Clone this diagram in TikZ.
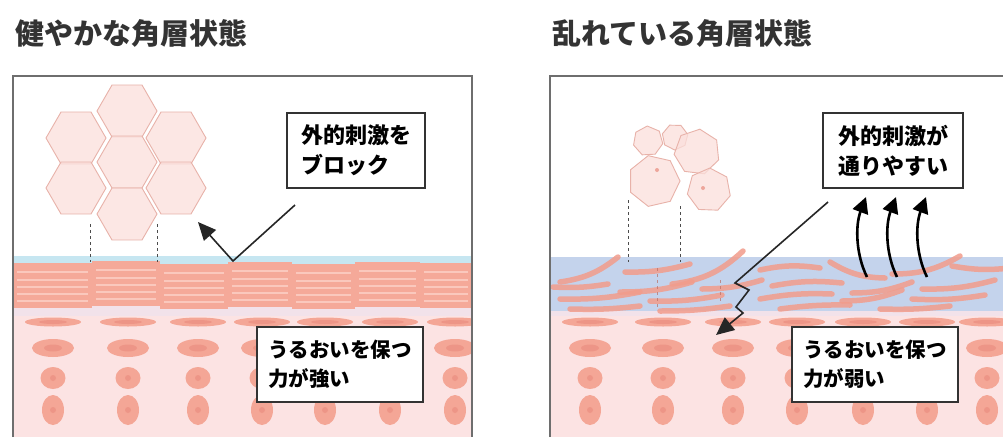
\documentclass[tikz,border=0pt]{standalone}
\usepackage{fontspec}
\newfontfamily\jp{Noto Sans CJK JP}
\usetikzlibrary{arrows.meta}
\definecolor{frameg}{HTML}{6E6E6E}
\definecolor{skinpink}{HTML}{FCE3E3}
\definecolor{lav}{HTML}{F2E2EA}
\definecolor{skyblue}{HTML}{C6E6F1}
\definecolor{blueband}{HTML}{C4D3EC}
\definecolor{corneum}{HTML}{F5A999}
\definecolor{cline}{HTML}{FAC8BD}
\definecolor{cellc}{HTML}{F4A696}
\definecolor{celld}{HTML}{E98B7D}
\definecolor{hexfill}{HTML}{FBE0DC}
\definecolor{hexline}{HTML}{E8B2A9}
\definecolor{crescent}{HTML}{F29C8B}
\definecolor{boxline}{HTML}{333333}
\tikzset{
  frame/.style={draw=frameg,line width=1.5pt},
  textbox/.style={draw=boxline,line width=1.6pt,fill=white,align=left,inner sep=0pt},
  upper/.style={font=\jp\bfseries\fontsize{22}{30}\selectfont},
  lower/.style={font=\jp\bfseries\fontsize{20.5}{29}\selectfont},
  title/.style={anchor=west,inner sep=0pt,font=\jp\bfseries\fontsize{29}{32}\selectfont,text=black!80},
  hexcell/.style={fill=hexfill,fill opacity=0.75,draw=hexline,line width=0.9pt},
  pointer/.style={draw=black!85,line width=1.6pt},
  bigtip/.style={-{Triangle[width=16pt,length=18pt]}},
  wavy/.style={draw=black,line width=2.6pt,-{Triangle[width=16pt,length=16pt]}},
  cres/.style={draw=crescent,line width=5.5pt,line cap=round,opacity=0.85},
  guide/.style={draw=black!70,dashed,line width=0.8pt},
  guidered/.style={draw=celld!80!black,dashed,line width=0.7pt,opacity=0.7}
}
\newcommand\hexat[3]{\filldraw[hexcell] (#1,#2) +(0:#3) -- +(60:#3) -- +(120:#3) -- +(180:#3) -- +(240:#3) -- +(300:#3) -- cycle;}
\newcommand\polyat[4]{\filldraw[hexcell] (#1,#2) +(#4:#3) -- +(#4+51.4:#3) -- +(#4+102.8:#3) -- +(#4+154.3:#3) -- +(#4+205.7:#3) -- +(#4+257.1:#3) -- +(#4+308.6:#3) -- cycle;}
\newcommand\cellrows[1]{%
  \foreach \x in {#1} {
    \fill[cellc] (\x,322) ellipse [x radius=28, y radius=4.5];
    \fill[celld,opacity=0.6] (\x,322) ellipse [x radius=14, y radius=2];
    \fill[cellc] (\x,348) ellipse [x radius=21, y radius=9];
    \fill[celld,opacity=0.6] (\x,348) ellipse [x radius=9, y radius=3.5];
    \fill[cellc] (\x,378) ellipse [x radius=12.5, y radius=11];
    \fill[celld,opacity=0.6] (\x,378) ellipse [x radius=3, y radius=3];
    \fill[cellc] (\x,410) ellipse [x radius=11, y radius=15];
    \fill[celld,opacity=0.6] (\x,410) ellipse [x radius=3, y radius=3];
  }}
\begin{document}
\begin{tikzpicture}[x=1pt,y=-1pt]
\useasboundingbox (0,0) rectangle (1003,437);
\fill[white] (0,0) rectangle (1003,437);

% titles
\node[title] (t1) at (15,33) {健やかな角層状態};
\node[title] (t2) at (552,33) {乱れている角層状態};

% ================= left panel =================
\begin{scope}
\clip (13,76) rectangle (472,437);
\fill[skinpink] (13,300) rectangle (472,437);
\fill[lav] (13,305) rectangle (472,316);
\fill[skyblue] (13,256) rectangle (472,265);
\foreach \xa/\xb/\dy in {13/92/0, 92/160/-2, 160/228/1, 228/292/-1, 292/355/1, 355/420/-1, 420/472/0} {
  \fill[corneum] (\xa,263+\dy) rectangle (\xb,308+\dy);
  \foreach \yy in {272,280,287,294,301}
    \draw[cline,line width=1.2pt] (\xa+4,\yy+\dy) -- (\xb-4,\yy+\dy);
}
\cellrows{53,128,198,262,325,390,455}
\end{scope}
\draw[frame] (13,437) -- (13,76) -- (472,76) -- (472,437);

% hexagons
\hexat{127}{111}{30}
\hexat{76}{138}{30}
\hexat{176}{138}{30}
\hexat{127}{162}{30}
\hexat{76}{188}{30}
\hexat{176}{188}{30}
\hexat{127}{214}{30}
\coordinate (g1a) at (90,224);
\coordinate (g1b) at (90,262);
\coordinate (g2a) at (157,224);
\coordinate (g2b) at (157,262);
\draw[guide] (g1a) -- (g1b);
\draw[guide] (g2a) -- (g2b);

% boxes left
\node[textbox,upper,minimum width=138pt,minimum height=75pt] (b1) at (356,150.5) {外的刺激を\\ブロック};
\node[textbox,lower,minimum width=166pt,minimum height=75pt] (b2) at (340,364.5) {うるおいを保つ\\力が強い};

% block arrow
\coordinate (p1) at (295,205);
\coordinate (p2) at (233,261);
\coordinate (p3) at (198,222);
\draw[pointer,bigtip] (p1) -- (p2) -- (p3);

% ================= right panel =================
\begin{scope}
\clip (550,76) rectangle (1003,437);
\fill[skinpink] (550,300) rectangle (1003,437);
\fill[lav] (550,305) rectangle (1003,316);
\fill[blueband] (550,257) rectangle (1003,311);
% crescents
\draw[cres] (560,282) to[bend right=15] (618,257);
\draw[cres] (625,272) to[bend right=8] (690,264);
\draw[cres] (672,284) to[bend right=18] (743,251);
\draw[cres] (760,270) to[bend left=10] (820,268);
\draw[cres] (830,262) to[bend right=15] (885,278);
\draw[cres] (892,274) to[bend right=15] (960,256);
\draw[cres] (952,266) to[bend right=8] (1010,268);
\draw[cres] (553,287) to[bend right=6] (608,284);
\draw[cres] (620,292) to[bend right=8] (692,282);
\draw[cres] (702,289) to[bend right=8] (762,280);
\draw[cres] (772,286) to[bend left=8] (842,283);
\draw[cres] (852,293) to[bend right=10] (912,282);
\draw[cres] (922,289) to[bend right=8] (995,280);
\draw[cres] (560,299) to[bend right=6] (640,292);
\draw[cres] (650,301) to[bend right=6] (722,295);
\draw[cres] (760,299) to[bend left=6] (832,294);
\draw[cres] (842,301) to[bend right=10] (902,290);
\draw[cres] (912,299) to[bend right=6] (985,295);
\draw[cres] (570,309) to[bend right=4] (640,306);
\draw[cres] (660,311) to[bend right=4] (730,306);
\draw[cres] (780,309) to[bend left=4] (850,305);
\draw[cres] (880,309) to[bend right=4] (950,306);
\coordinate (r1a) at (657,268);
\coordinate (r1b) at (657,310);
\coordinate (r2a) at (720,280);
\coordinate (r2b) at (720,302);
\draw[guidered] (r1a) -- (r1b);
\draw[guidered] (r2a) -- (r2b);
\cellrows{590,663,733,797,863,927,987}
\end{scope}
\draw[frame] (550,437) -- (550,76) -- (1003,76);

% disordered cells
\polyat{648}{141}{15}{10}
\polyat{675}{137}{13}{40}
\polyat{697}{152}{23}{20}
\polyat{654}{181}{26}{0}
\polyat{709}{190}{22}{15}
\fill[celld,opacity=0.7] (657,170) circle (2);
\fill[celld,opacity=0.7] (703,188) circle (2);
\coordinate (g3a) at (628,200);
\coordinate (g3b) at (628,262);
\coordinate (g4a) at (680,206);
\coordinate (g4b) at (680,262);
\draw[guide] (g3a) -- (g3b);
\draw[guide] (g4a) -- (g4b);

% boxes right
\node[textbox,upper,minimum width=140pt,minimum height=75pt] (b3) at (893,150.5) {外的刺激が\\通りやすい};
\node[textbox,lower,minimum width=166pt,minimum height=75pt] (b4) at (875,364.5) {うるおいを保つ\\力が弱い};

% penetrating zigzag arrow
\coordinate (q1) at (828,202);
\coordinate (q2) at (735,283);
\coordinate (q3) at (749,290);
\coordinate (q4) at (736,307);
\coordinate (q5) at (743,313);
\coordinate (q6) at (716,335);
\draw[pointer,bigtip] (q1) -- (q2) -- (q3) -- (q4) -- (q5) -- (q6);

% escaping wavy arrows
\foreach \i/\dx in {1/0,2/30,3/60} {
  \coordinate (w\i a) at (867+\dx,277);
  \coordinate (w\i b) at (866+\dx,197);
  \draw[wavy] (w\i a) .. controls (856+\dx,255) and (855+\dx,226) .. (w\i b);
}
\end{tikzpicture}
\end{document}
